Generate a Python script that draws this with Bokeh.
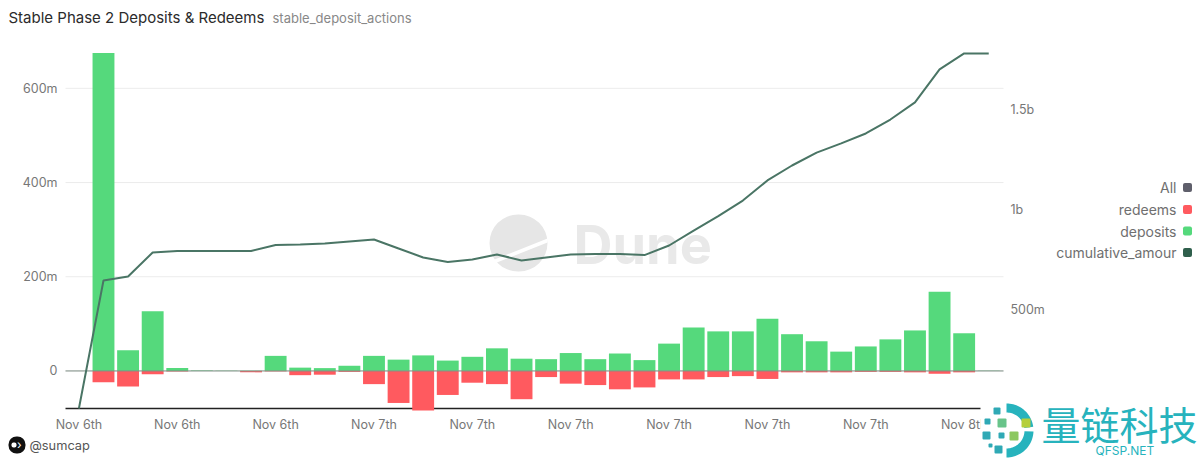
import numpy as np
from bokeh.embed import file_html
from bokeh.models import (BoxAnnotation, ColumnDataSource, FixedTicker, Label, LinearAxis,
                          PolyAnnotation, Range1d)
from bokeh.plotting import figure
from bokeh.resources import INLINE

# values in millions, first slot is the start of the cumulative line
deposits = [0, 675, 44, 127, 6, 1, 0.5, 0.5, 32, 7, 6, 11, 32, 24, 33, 22, 30, 48, 26, 25,
            38, 25, 37, 23, 58, 92, 84, 84, 111, 78, 63, 41, 52, 67, 86, 168, 80, 0.5]
redeems = [0, -24, -33, -7, -1, 0, 0, -3, -1, -9, -8, -2, -28, -68, -84, -51, -25, -28, -60, -13,
           -27, -30, -39, -35, -18, -18, -13, -11, -17, -3, -3, -3, -2, -2, -3, -6, -3, 0]
cumulative = [0, 643, 663, 784, 791, 791, 791, 791, 822, 824, 829, 839, 849, 804, 759, 736, 749,
              774, 744, 759, 774, 776, 776, 771, 819, 894, 967, 1045, 1146, 1221, 1286, 1332,
              1382, 1452, 1538, 1704, 1784, 1784]
x_labels = ["Nov 6th", "Nov 6th", "Nov 6th", "Nov 7th", "Nov 7th", "Nov 7th", "Nov 7th",
            "Nov 7th", "Nov 7th", "Nov 8th"]
left_ticks = [0, 200, 400, 600]
left_labels = ["0", "200m", "400m", "600m"]
right_ticks = [500, 1000, 1500]
right_labels = ["500m", "1b", "1.5b"]
legend_names = ["All", "redeems", "deposits", "cumulative_amour"]
legend_colors = ["#5f5f6b", "#ff5a5f", "#55d97c", "#2f5f4c"]

W, H = 1200, 461
LEFT, RIGHT, TOP, BOTTOM = 65, 1003, 45, 410
X0, X1 = -0.545, 37.6
Y0, Y1 = -84, 691
C0, C1 = -10, 1824
FONT = "Inter"
GREY = "#777777"


# the frame fills the whole figure so the texts outside the chart area stay visible
def widen(lo, hi, before, span, after):
    per_px = (hi - lo) / span
    return lo - before * per_px, hi + after * per_px


def sx(px):
    return px


def sy(py):
    return H - py


slots = list(range(len(deposits)))
source = ColumnDataSource(data=dict(x=slots, deposits=deposits, redeems=redeems, cumulative=cumulative))

xr = widen(X0, X1, LEFT, RIGHT - LEFT, W - RIGHT)
yr = widen(Y0, Y1, H - BOTTOM, BOTTOM - TOP, TOP)
cr = widen(C0, C1, H - BOTTOM, BOTTOM - TOP, TOP)

p = figure(width=W, height=H, output_backend="svg", toolbar_location=None, tools="",
           x_range=Range1d(*xr), y_range=Range1d(*yr), x_axis_type=None, y_axis_type=None,
           min_border=0)
p.outline_line_color = None
p.grid.grid_line_color = None
p.extra_y_ranges = {"cumulative": Range1d(*cr)}


def box(left, right, top, bottom, color, radius=0, level="annotation"):
    b = BoxAnnotation(left=sx(left), right=sx(right), top=sy(top), bottom=sy(bottom),
                      left_units="screen", right_units="screen", top_units="screen", bottom_units="screen",
                      fill_color=color, fill_alpha=1, line_color=None, border_radius=radius, level=level,
                      editable=False)
    p.add_layout(b)


def poly(xs, ys, color, level="annotation"):
    a = PolyAnnotation(xs=[sx(v) for v in xs], ys=[sy(v) for v in ys], xs_units="screen", ys_units="screen",
                       fill_color=color, fill_alpha=1, line_color=None, level=level)
    p.add_layout(a)


def label(px, py, text, size, color, align="left", level="annotation", font=FONT, style="normal"):
    p.add_layout(Label(x=sx(px), y=sy(py), x_units="screen", y_units="screen", text=text, text_font=font,
                       text_font_size=size, text_color=color, text_align=align, text_baseline="middle",
                       text_font_style=style, level=level))


# Dune watermark behind the marks
box(489, 547, 214, 271, "#e6e6e6", radius=29, level="underlay")
poly([489, 547, 547, 489], [261, 238, 242, 265], "white", level="underlay")
label(573, 244, "Dune", "54px", "#e9e9e9", level="underlay", style="bold")

# axes sit at fixed places inside the frame
xaxis = LinearAxis(fixed_location=Y0, ticker=FixedTicker(ticks=slots[::4]),
                   major_label_overrides=dict(zip(slots[::4], x_labels)))
yaxis = LinearAxis(fixed_location=X0, ticker=FixedTicker(ticks=left_ticks),
                   major_label_overrides=dict(zip(left_ticks, left_labels)))
right = LinearAxis(fixed_location=X1, y_range_name="cumulative", ticker=FixedTicker(ticks=right_ticks),
                   major_label_overrides=dict(zip(right_ticks, right_labels)))
p.add_layout(xaxis, "below")
p.add_layout(yaxis, "left")
p.add_layout(right, "right")
for ax in [xaxis, yaxis, right]:
    ax.axis_line_color = None
    ax.major_tick_line_color = None
    ax.minor_tick_line_color = None
    ax.major_tick_out = 0
    ax.minor_tick_out = 0
    ax.major_label_text_font = FONT
    ax.major_label_text_font_size = "12.5px"
    ax.major_label_text_color = GREY
xaxis.major_label_standoff = 6
yaxis.major_label_standoff = 8
right.major_label_standoff = 7

# grid lines and axis rule stop at the chart area
p.segment(x0=[X0] * len(left_ticks), x1=[X1] * len(left_ticks), y0=left_ticks, y1=left_ticks,
          line_color="#ececec", line_width=1)
p.segment(x0=[X0], x1=[X1], y0=[-80], y1=[-80], line_color="#222222", line_width=1.5)

p.vbar(x="x", top="deposits", bottom=0, width=0.89, source=source, fill_color="#55d97c", line_color=None)
p.vbar(x="x", top=0, bottom="redeems", width=0.89, source=source, fill_color="#ff5a5f", line_color=None)
p.segment(x0=[X0], x1=[X1], y0=[0], y1=[0], line_color="#7f8f86", line_width=1)
p.line(x="x", y="cumulative", source=source, y_range_name="cumulative", line_color="#4a7565", line_width=2)

# heading and footer
label(8, 17, "Stable Phase 2 Deposits & Redeems", "15px", "#2b2b2b")
label(272, 17, "stable_deposit_actions", "13px", "#888888")
box(8, 25, 436, 453, "#111111", radius=8)
box(11, 16, 442, 447, "white", radius=2)
label(16.5, 444, "›", "12px", "white")
label(29, 445, "@sumcap", "12.8px", "#555555")

# legend, right aligned with the swatch after the text
for py, name, color in zip([187, 209, 230.5, 252], legend_names, legend_colors):
    label(1176, py, name, "14px", "#6f6f6f", align="right")
    box(1182.5, 1191.5, py - 4.5, py + 4.5, color, radius=2)

# qfsp.net mark in the bottom right corner
box(980, 1200, 400, 461, "white")
cx, cy = 1006, 430
for a0, a1 in [(-90, -8), (2, 90)]:
    t = np.radians(np.linspace(a0, a1, 24))
    xs = np.r_[cx + 27 * np.cos(t), cx + 18 * np.cos(t[::-1])]
    ys = np.r_[cy + 27 * np.sin(t), cy + 18 * np.sin(t[::-1])]
    poly(list(xs), list(ys), "#27b3bd")
for x0, y0, s, c in [(993, 407, 7, "#2fa9b5"), (984, 418, 6, "#2fa9b5"), (997, 418, 9, "#68c48a"),
                     (982, 431, 8, "#2fa9b5"), (998, 432, 6, "#2fa9b5"), (1021, 418, 9, "#b5cf3a"),
                     (1009, 431, 9, "#8cc860"), (988, 443, 4, "#2fa9b5"), (994, 445, 8, "#2fa9b5")]:
    box(x0, x0 + s, y0, y0 + s, c, radius=1)
label(1041, 422, "量链科技", "39px", "#27b3bd", font="Noto Sans CJK SC")
label(1095, 450, "QFSP.NET", "12px", "#27b3bd")

open("out.html", "w").write(file_html(p, INLINE))
